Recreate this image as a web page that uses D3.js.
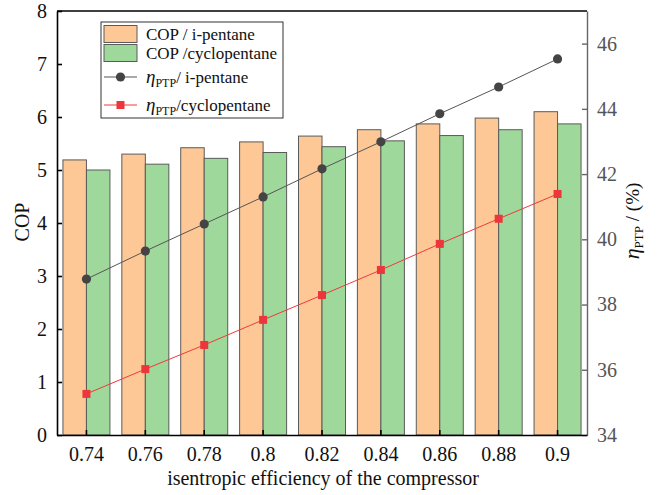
<!DOCTYPE html>
<html>
<head>
<meta charset="utf-8">
<script src="https://cdn.jsdelivr.net/npm/d3@7"></script>
<style>
  html, body { margin: 0; padding: 0; background: #fff; }
</style>
</head>
<body>
<svg id="chart" width="660" height="495"></svg>
<script>
// Isentropic efficiency of the compressor (categories)
const efficiency = ["0.74", "0.76", "0.78", "0.8", "0.82", "0.84", "0.86", "0.88", "0.9"];

// COP for each working fluid
const copIPentane = [5.19, 5.30, 5.42, 5.53, 5.64, 5.76, 5.87, 5.98, 6.10];
const copCyclopentane = [5.00, 5.11, 5.22, 5.33, 5.44, 5.55, 5.65, 5.76, 5.87];

// Power-to-power efficiency (%)
const etaIPentane = [38.78, 39.64, 40.47, 41.30, 42.16, 42.99, 43.85, 44.67, 45.53];
const etaCyclopentane = [35.26, 36.02, 36.76, 37.53, 38.29, 39.06, 39.86, 40.63, 41.39];

// Axis ticks
const copTicks = [0, 1, 2, 3, 4, 5, 6, 7, 8];
const etaTicks = [34, 36, 38, 40, 42, 44, 46];

const FONT = "'Liberation Serif', 'DejaVu Serif', serif";
const svg = d3.select("#chart").attr("font-family", FONT);
const plotL = 57, plotR = 587, plotT = 11, plotB = 435;

const x = d3.scaleBand().domain(efficiency).range([plotL, plotR]).padding(0);
const yL = d3.scaleLinear().domain([0, 8]).range([plotB, plotT]);
const yR = d3.scaleLinear().domain([34, 47]).range([plotB, plotT]);

const barW = 23.5;
const orange = "#fdc896", green = "#9fd89b", barStroke = "#5a5a5a";

// Bars
const g = svg.append("g");
g.selectAll("rect.ip").data(copIPentane).join("rect")
  .attr("x", (d, i) => x(efficiency[i]) + x.bandwidth() / 2 - barW)
  .attr("y", d => yL(d))
  .attr("width", barW)
  .attr("height", d => yL(0) - yL(d))
  .attr("fill", orange).attr("stroke", barStroke).attr("stroke-width", 1);
g.selectAll("rect.cp").data(copCyclopentane).join("rect")
  .attr("x", (d, i) => x(efficiency[i]) + x.bandwidth() / 2)
  .attr("y", d => yL(d))
  .attr("width", barW)
  .attr("height", d => yL(0) - yL(d))
  .attr("fill", green).attr("stroke", barStroke).attr("stroke-width", 1);

// Efficiency lines
const cx = (i) => x(efficiency[i]) + x.bandwidth() / 2;
const etaLine = d3.line().x((d, i) => cx(i)).y(d => yR(d));
svg.append("path").datum(etaIPentane).attr("d", etaLine)
  .attr("fill", "none").attr("stroke", "#555").attr("stroke-width", 1);
svg.selectAll("circle.ip").data(etaIPentane).join("circle")
  .attr("cx", (d, i) => cx(i)).attr("cy", d => yR(d)).attr("r", 4.6)
  .attr("fill", "#444");

svg.append("path").datum(etaCyclopentane).attr("d", etaLine)
  .attr("fill", "none").attr("stroke", "#f0393c").attr("stroke-width", 1);
svg.selectAll("rect.sq").data(etaCyclopentane).join("rect")
  .attr("x", (d, i) => cx(i) - 4).attr("y", d => yR(d) - 4)
  .attr("width", 8).attr("height", 8)
  .attr("fill", "#ec363b");

// Axes
const axL = svg.append("g").attr("transform", `translate(${plotL},0)`)
  .call(d3.axisLeft(yL).tickValues(copTicks).tickSizeInner(-5).tickSizeOuter(0).tickPadding(10));
axL.attr("font-family", FONT);
axL.selectAll("text").attr("font-size", 20).attr("fill", "#111");
axL.selectAll("line, path").attr("stroke", "#000").attr("stroke-width", 1.6);

const axR = svg.append("g").attr("transform", `translate(${plotR},0)`)
  .call(d3.axisRight(yR).tickValues(etaTicks).tickSizeInner(-5).tickSizeOuter(0).tickPadding(10));
axR.attr("font-family", FONT);
axR.selectAll("text").attr("font-size", 20).attr("fill", "#555");
axR.selectAll("line, path").attr("stroke", "#666").attr("stroke-width", 1.4);

const axB = svg.append("g").attr("transform", `translate(0,${plotB})`)
  .call(d3.axisBottom(x).tickSizeInner(-5).tickSizeOuter(0).tickPadding(12));
axB.attr("font-family", FONT);
axB.selectAll("text").attr("font-size", 20).attr("fill", "#111");
axB.selectAll("line, path").attr("stroke", "#000").attr("stroke-width", 1.6);

// Top frame
svg.append("line").attr("x1", plotL).attr("x2", plotR).attr("y1", plotT).attr("y2", plotT)
  .attr("stroke", "#000").attr("stroke-width", 1.6);

// Axis titles
svg.append("text").attr("x", 323).attr("y", 485).attr("text-anchor", "middle")
  .attr("font-size", 20).attr("fill", "#111").text("isentropic efficiency of the compressor");
svg.append("text").attr("transform", "translate(29,222) rotate(-90)").attr("text-anchor", "middle")
  .attr("font-size", 20).attr("fill", "#111").text("COP");

const rt = svg.append("text").attr("transform", "translate(639,221) rotate(-90)")
  .attr("text-anchor", "middle").attr("font-size", 19).attr("fill", "#111");
rt.append("tspan").attr("font-style", "italic").attr("font-size", 22).text("η");
rt.append("tspan").attr("font-size", 13).attr("dy", 4).text("PTP");
rt.append("tspan").attr("dy", -4).text(" / (%)");

// Legend
const lg = svg.append("g");
lg.append("rect").attr("x", 101).attr("y", 22).attr("width", 182).attr("height", 96)
  .attr("fill", "#fff").attr("stroke", "#333").attr("stroke-width", 1);

const legendItems = [
  { kind: "bar", fill: orange, label: [["COP / i-pentane"]] },
  { kind: "bar", fill: green, label: [["COP /cyclopentane"]] },
  { kind: "circle", color: "#555", mark: "#444", label: [["η", "it"], ["PTP", "sub"], ["/ i-pentane", "up"]] },
  { kind: "square", color: "#f0393c", mark: "#ec363b", label: [["η", "it"], ["PTP", "sub"], ["/cyclopentane", "up"]] }
];
const rowY = [34, 53, 77, 105];
legendItems.forEach((it, i) => {
  const yc = rowY[i];
  if (it.kind === "bar") {
    lg.append("rect").attr("x", 104).attr("y", yc - 8.5).attr("width", 33).attr("height", 17)
      .attr("fill", it.fill).attr("stroke", barStroke).attr("stroke-width", 1);
  } else {
    lg.append("line").attr("x1", 104).attr("x2", 137).attr("y1", yc).attr("y2", yc)
      .attr("stroke", it.color).attr("stroke-width", 1);
    if (it.kind === "circle") {
      lg.append("circle").attr("cx", 120.5).attr("cy", yc).attr("r", 4.6).attr("fill", it.mark);
    } else {
      lg.append("rect").attr("x", 116.5).attr("y", yc - 4).attr("width", 8).attr("height", 8).attr("fill", it.mark);
    }
  }
  const t = lg.append("text").attr("x", 146).attr("y", yc + 5.5).attr("font-size", 17).attr("fill", "#111");
  it.label.forEach(([s, style]) => {
    const sp = t.append("tspan").text(s);
    if (style === "it") sp.attr("font-style", "italic").attr("font-size", 19);
    if (style === "sub") sp.attr("font-size", 12).attr("dy", 4);
    if (style === "up") sp.attr("dy", -4);
  });
});
</script>
</body>
</html>
